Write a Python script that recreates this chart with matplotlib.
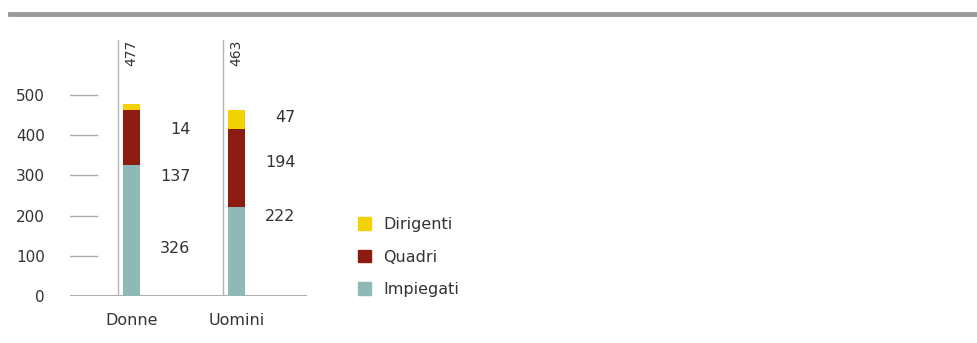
import numpy as np
import matplotlib.pyplot as plt
from matplotlib.lines import Line2D

# dati
categorie = ["Donne", "Uomini"]
impiegati = [326, 222]
quadri = [137, 194]
dirigenti = [14, 47]
totali = [477, 463]
y_ticks = [0, 100, 200, 300, 400, 500]

# posizione verticale delle etichette dei valori (unità dell'asse y)
pos_etichette = [
    [117, 298, 413],   # Donne: impiegati, quadri, dirigenti
    [199, 333, 445],   # Uomini
]

col_imp = "#8fb9b6"
col_qua = "#8c1c10"
col_dir = "#f2d200"
col_txt = "#333333"
plt.rcParams["font.family"] = "DejaVu Sans"

W, H = 978, 343
fig = plt.figure(figsize=(W / 100, H / 100), dpi=100)

# asse in coordinate pixel: da x=70 a x=307, da y=40 (alto) a y=296 (zero)
ax = fig.add_axes([70 / W, 1 - 296 / H, (307 - 70) / W, (296 - 40) / H])
ymax = 256 / 0.402
ax.set_ylim(0, ymax)
x = np.arange(len(categorie))
ax.set_xlim(-61.5 / 105, 175.5 / 105)

larg = 0.162
ax.bar(x, impiegati, larg, color=col_imp, zorder=3)
ax.bar(x, quadri, larg, bottom=impiegati, color=col_qua, zorder=3)
base_dir = np.array(impiegati) + np.array(quadri)
ax.bar(x, dirigenti, larg, bottom=base_dir, color=col_dir, zorder=3)

# tacche dell'asse y come brevi linee
for t in y_ticks[1:]:
    ax.plot([ax.get_xlim()[0], -34.5 / 105], [t, t], color="#aaaaaa", lw=1, zorder=1)
ax.axhline(0, color="#b0b0b0", lw=2.2, zorder=2)

# linea verticale e totale ruotato
for i, tot in enumerate(totali):
    ax.plot([i - 0.129, i - 0.129], [0, ymax], color="#b5b5b5", lw=1, zorder=1)
    ax.text(i, ymax, str(tot), rotation=90, ha="center", va="top",
            fontsize=10, color=col_txt)

# etichette dei valori
for i in range(len(categorie)):
    vals = [impiegati[i], quadri[i], dirigenti[i]]
    for v, yp in zip(vals, pos_etichette[i]):
        ax.text(i + 0.56, yp, str(v), ha="right", va="center",
                fontsize=11.5, color=col_txt)

ax.set_yticks(y_ticks)
ax.set_yticklabels([str(t) for t in y_ticks], fontsize=11, color=col_txt)
ax.tick_params(axis="y", length=0, pad=18)
ax.set_xticks(x)
ax.set_xticklabels(categorie, fontsize=11.5, color=col_txt)
ax.tick_params(axis="x", length=0, pad=12.5)
for s in ax.spines.values():
    s.set_visible(False)

# legenda
handles = [
    plt.Rectangle((0, 0), 1, 1, color=col_dir),
    plt.Rectangle((0, 0), 1, 1, color=col_qua),
    plt.Rectangle((0, 0), 1, 1, color=col_imp),
]
fig.legend(handles, ["Dirigenti", "Quadri", "Impiegati"],
           loc="upper left", bbox_to_anchor=(358 / W, 1 - 217 / H),
           frameon=False, fontsize=11.5, handlelength=0.8, handleheight=0.8,
           handletextpad=0.8, labelspacing=1.1, labelcolor=col_txt,
           borderaxespad=0, borderpad=0)

# linea grigia in alto
fig.add_artist(Line2D([10 / W, 1], [1 - 13.5 / H, 1 - 13.5 / H],
                      transform=fig.transFigure, color="#9a9a9a", lw=3.5))

fig.savefig("out.png", dpi=100)
